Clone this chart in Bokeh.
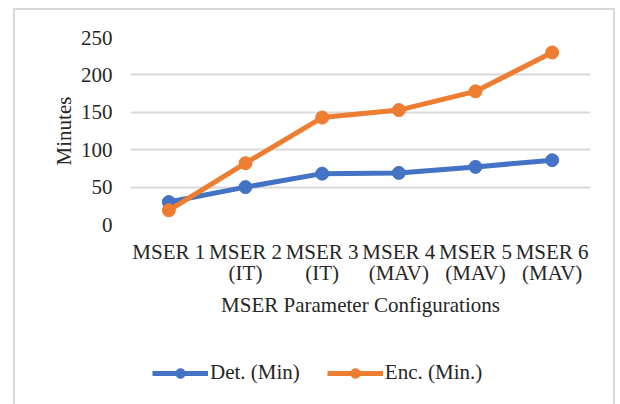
from bokeh.plotting import figure
from bokeh.layouts import column
from bokeh.models import Range1d, Legend, LegendItem, FixedTicker
from bokeh.embed import file_html
from bokeh.resources import INLINE

# Run time per MSER parameter configuration
configs = ["MSER 1", "MSER 2\n(IT)", "MSER 3\n(IT)", "MSER 4\n(MAV)", "MSER 5\n(MAV)", "MSER 6\n(MAV)"]
det_min = [30, 50, 68, 69, 77, 86]
enc_min = [19, 82, 143, 153, 178, 230]
y_ticks = [0, 50, 100, 150, 200, 250]
series_names = ["Det. (Min)", "Enc. (Min.)"]

BLUE = "#4472C4"
ORANGE = "#ED7D31"
GRID = "#D9D9D9"
TEXT = "#262626"
FONT = "Liberation Serif"
FS = "21px"

# main chart
p = figure(
    x_range=configs,
    y_range=Range1d(0, 250),
    width=598, height=314,
    output_backend="svg", toolbar_location=None,
    min_border_left=115, min_border_right=23,
    min_border_top=27, min_border_bottom=100,
)
p.outline_line_color = None
p.background_fill_color = "white"
p.border_fill_color = "white"

p.xgrid.grid_line_color = None
p.ygrid.grid_line_color = GRID
p.ygrid.grid_line_width = 2

p.yaxis.ticker = FixedTicker(ticks=y_ticks)
for ax in (p.xaxis[0], p.yaxis[0]):
    ax.axis_line_color = None
    ax.major_tick_line_color = None
    ax.minor_tick_line_color = None
    ax.major_label_text_font = FONT
    ax.major_label_text_font_size = FS
    ax.major_label_text_color = TEXT
    ax.axis_label_text_font = FONT
    ax.axis_label_text_font_size = FS
    ax.axis_label_text_color = TEXT
    ax.axis_label_text_font_style = "normal"

p.yaxis.major_label_standoff = 12
p.yaxis.axis_label = "Minutes"
p.yaxis.axis_label_standoff = 2
p.xaxis.major_label_standoff = 9
p.xaxis.major_label_text_line_height = 0.88
p.xaxis.axis_label = "MSER Parameter Configurations"
p.xaxis.axis_label_standoff = 5

p.line(configs, det_min, line_color=BLUE, line_width=5)
p.scatter(configs, det_min, size=13, fill_color=BLUE, line_color=BLUE)
p.line(configs, enc_min, line_color=ORANGE, line_width=5)
p.scatter(configs, enc_min, size=13, fill_color=ORANGE, line_color=ORANGE)

# legend strip below the chart (its frame lines up with the chart's frame)
q = figure(
    x_range=Range1d(0, 1), y_range=Range1d(0, 1),
    width=598, height=80,
    output_backend="svg", toolbar_location=None,
    min_border=0, x_axis_location=None, y_axis_location=None,
)
q.outline_line_color = None
q.grid.visible = False
q.background_fill_color = "white"
q.border_fill_color = "white"

items = []
for name, color in zip(series_names, [BLUE, ORANGE]):
    # off-range points: only the legend swatch is visible
    ln = q.line([-5, -4], [-5, -4], line_color=color, line_width=5)
    mk = q.scatter([-5], [-5], size=13, fill_color=color, line_color=color)
    items.append(LegendItem(label=name, renderers=[ln, mk]))

legend = Legend(
    items=items,
    orientation="horizontal",
    location=(22, 19),
    glyph_width=56, glyph_height=24,
    label_standoff=2, spacing=27, padding=0, margin=0,
    border_line_color=None, background_fill_alpha=0,
    label_text_font=FONT, label_text_font_size=FS, label_text_color=TEXT,
)
q.add_layout(legend, "center")

layout = column(p, q, spacing=0)
layout.margin = (10, 0, 0, 15)
layout.styles = {"outline": "2px solid #D9D9D9"}

open("out.html", "w").write(file_html(layout, INLINE))
